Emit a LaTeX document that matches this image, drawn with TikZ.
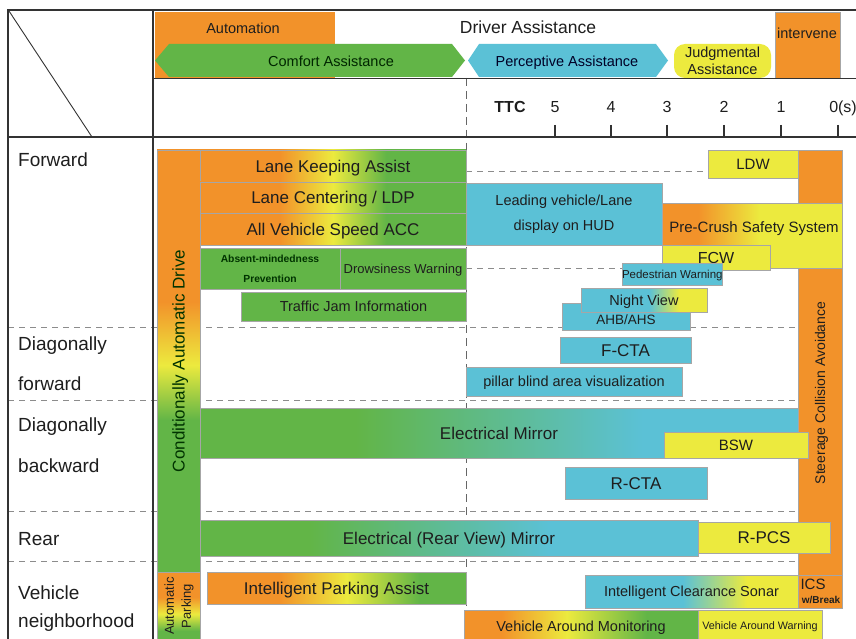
\documentclass[tikz,border=0pt]{standalone}
\usepackage{fontspec}
\setmainfont{Liberation Sans}
\definecolor{cOr}{HTML}{F2922A}
\definecolor{cGr}{HTML}{62B547}
\definecolor{cCy}{HTML}{5BC1D6}
\definecolor{cYe}{HTML}{ECEA3E}
\definecolor{txt}{HTML}{1E1E1E}
\definecolor{frmc}{HTML}{333333}
\newcommand\fsz[1]{\fontsize{#1}{#1}\selectfont}
% horizontal shadings (path mapped to 25bp..75bp)
\pgfdeclarehorizontalshading{shLK}{100bp}{color(0bp)=(cOr); color(25bp)=(cOr); color(40bp)=(cOr); color(50bp)=(cYe); color(60bp)=(cGr); color(75bp)=(cGr); color(100bp)=(cGr)}
\pgfdeclarehorizontalshading{shIPA}{100bp}{color(0bp)=(cOr); color(25bp)=(cOr); color(39bp)=(cOr); color(52bp)=(cYe); color(66bp)=(cGr); color(75bp)=(cGr); color(100bp)=(cGr)}
\pgfdeclarehorizontalshading{shVAM}{100bp}{color(0bp)=(cOr); color(25bp)=(cOr); color(33bp)=(cOr); color(47bp)=(cYe); color(64bp)=(cGr); color(75bp)=(cGr); color(100bp)=(cGr)}
\pgfdeclarehorizontalshading{shPCS}{100bp}{color(0bp)=(cOr); color(25bp)=(cOr); color(35bp)=(cOr); color(52bp)=(cYe); color(75bp)=(cYe); color(100bp)=(cYe)}
\pgfdeclarehorizontalshading{shEM}{100bp}{color(0bp)=(cGr); color(25bp)=(cGr); color(38bp)=(cGr); color(62bp)=(cCy); color(75bp)=(cCy); color(100bp)=(cCy)}
\pgfdeclarehorizontalshading{shERM}{100bp}{color(0bp)=(cGr); color(25bp)=(cGr); color(36bp)=(cGr); color(60bp)=(cCy); color(75bp)=(cCy); color(100bp)=(cCy)}
\pgfdeclarehorizontalshading{shNV}{100bp}{color(0bp)=(cCy); color(25bp)=(cCy); color(52bp)=(cCy); color(64bp)=(cYe); color(75bp)=(cYe); color(100bp)=(cYe)}
\pgfdeclarehorizontalshading{shICS}{100bp}{color(0bp)=(cCy); color(25bp)=(cCy); color(48bp)=(cCy); color(63bp)=(cYe); color(75bp)=(cYe); color(100bp)=(cYe)}
% vertical shadings (bottom = 25bp, top = 75bp)
\pgfdeclareverticalshading{shCAD}{100bp}{color(0bp)=(cGr); color(25bp)=(cGr); color(43bp)=(cGr); color(49.5bp)=(cYe); color(57bp)=(cOr); color(75bp)=(cOr); color(100bp)=(cOr)}
\pgfdeclareverticalshading{shAP}{100bp}{color(0bp)=(cGr); color(25bp)=(cGr); color(33bp)=(cGr); color(45bp)=(cYe); color(57bp)=(cOr); color(75bp)=(cOr); color(100bp)=(cOr)}
\begin{document}
\begin{tikzpicture}[x=1pt,y=-1pt,
  bx/.style={draw=black!35, line width=0.5pt, inner sep=0pt, outer sep=0pt, anchor=north west, align=center, text=txt},
  one/.style={font=\fsz{#1}, text height={0.72*#1pt}, text depth=0pt},
  tx/.style={inner sep=0pt, text=txt},
  lbl/.style={anchor=base west, text=txt, font=\fsz{19}, inner sep=0pt},
  dl/.style={draw=black!45, line width=1pt, dash pattern=on 6pt off 5pt},
  vdl/.style={draw=black!60, line width=1pt, dash pattern=on 8pt off 5pt},
  frm/.style={draw=frmc, line width=1.5pt}]
\useasboundingbox (0,0) rectangle (856,639);
\fill[white] (0,0) rectangle (856,639);

% ---------- dashed guide lines ----------
\draw[vdl] (466,78) -- (466,639);
\draw[dl] (8,327) -- (798,327);
\draw[dl] (8,400) -- (798,400);
\draw[dl] (8,511) -- (798,511);
\draw[dl] (8,561) -- (798,561);
\draw[dl] (466,172) -- (708,172);
\draw[dl] (466,268) -- (622,268);

% ---------- header ----------
\node[bx, draw=none, fill=cOr, minimum width=180pt, minimum height=66pt] (auto) at (155,12) {};
\node[tx, one=14.5] (autoT) at (243,28) {Automation};
\node[tx, one=17.5] (daT) at (528,27) {Driver Assistance};
\fill[cGr] (155,60.5) -- (169,44) -- (452,44) -- (465,60.5) -- (452,77) -- (169,77) -- cycle;
\node[tx, one=14.5, text=black!85!green] (cmfT) at (331,61) {Comfort Assistance};
\fill[cCy] (468,60.5) -- (479,44) -- (656,44) -- (668,60.5) -- (656,77) -- (479,77) -- cycle;
\node[tx, one=14.5, text=black!85!blue] (perT) at (567,61) {Perceptive Assistance};
\node[bx, draw=none, fill=cYe, rounded corners=11pt, minimum width=97pt, minimum height=34pt, font=\fontsize{14.5}{16.5}\selectfont] (jud) at (674,44) {Judgmental\\Assistance};
\node[bx, fill=cOr, minimum width=65pt, minimum height=66pt] (int) at (775,12) {};
\node[tx, one=14.5] (intT) at (807,33) {intervene};

% TTC axis
\node[tx, one=16, font=\bfseries\fsz{16}] (ttc) at (510,107) {TTC};
\foreach \xx/\lab in {555/5,611/4,667/3,724/2,781/1}{
  \node[tx, one=16] (t\lab) at (\xx,107) {\lab};
  \draw[frmc, line width=1.3pt] (\xx,125) -- (\xx,137);
}
\node[tx, one=16, anchor=east] (t0) at (857,107) {0(s)};
\draw[frmc, line width=1.3pt] (838,125) -- (838,137);

% ---------- left labels ----------
\node[lbl] (lF) at (18,167) {Forward};
\node[lbl] (lD1) at (18,350) {Diagonally};
\node[lbl] (lD2) at (18,390) {forward};
\node[lbl] (lB1) at (18,431) {Diagonally};
\node[lbl] (lB2) at (18,472) {backward};
\node[lbl] (lR) at (18,545) {Rear};
\node[lbl] (lV1) at (18,599) {Vehicle};
\node[lbl] (lV2) at (18,627) {neighborhood};

% ---------- vertical bars ----------
\node[bx, shade, shading=shCAD, minimum width=43pt, minimum height=422pt] (cad) at (157,150) {};
\node[tx, one=17, rotate=90, text=black!80!green] (cadT) at (178.5,361) {Conditionally Automatic Drive};
\node[bx, shade, shading=shAP, minimum width=43pt, minimum height=70pt] (ap) at (157,572) {};
\node[tx, font=\fontsize{13}{17}\selectfont, rotate=90, align=center] (apT) at (179,606) {Automatic\\Parking};
\node[bx, fill=cOr, minimum width=44pt, minimum height=425pt] (sca) at (798,150) {};

% ---------- forward ----------
\node[bx, shade, shading=shLK, one=17, minimum width=266pt, minimum height=32pt] (lka) at (200,150) {Lane Keeping Assist};
\node[bx, shade, shading=shLK, one=17, minimum width=266pt, minimum height=31pt] (lcl) at (200,182) {Lane Centering / LDP};
\node[bx, shade, shading=shLK, one=17, minimum width=266pt, minimum height=32pt] (acc) at (200,213) {All Vehicle Speed ACC};
\node[bx, fill=cGr, font=\bfseries\fontsize{10.3}{20}\selectfont, text=black!80!green, minimum width=140pt, minimum height=41pt] (amp) at (200,248) {Absent-mindedness\\Prevention};
\node[bx, fill=cGr, one=13, minimum width=126pt, minimum height=41pt] (dw) at (340,248) {Drowsiness Warning};
\node[bx, fill=cGr, one=14.5, minimum width=225pt, minimum height=29pt] (tji) at (241,292) {Traffic Jam Information};
\node[bx, fill=cYe, one=15, minimum width=90pt, minimum height=28pt] (ldw) at (708,150) {LDW};
\node[bx, fill=cCy, font=\fontsize{14.5}{25}\selectfont, minimum width=196pt, minimum height=62pt] (hud) at (466,183) {Leading vehicle/Lane\\display on HUD};
\node[bx, shade, shading=shPCS, minimum width=180pt, minimum height=65pt] (pcs) at (662,203) {};
\node[tx, one=15] (pcsT) at (754,227) {Pre-Crush Safety System};
\node[bx, fill=cYe, one=16, minimum width=108pt, minimum height=25pt] (fcw) at (662,245) {FCW};
\node[bx, fill=cCy, one=11.5, minimum width=76pt, minimum height=22pt] (ped) at (622,263) {Pedestrian Warning};
\node[bx, fill=cCy, minimum width=128pt, minimum height=27pt] (ahb) at (562,303) {};
\node[bx, shade, shading=shNV, one=14.5, minimum width=126pt, minimum height=24pt] (nv) at (581,288) {Night View};
\node[tx, one=13.5] (ahbT) at (626,320) {AHB/AHS};

% ---------- diagonally forward ----------
\node[bx, fill=cCy, one=17, minimum width=131pt, minimum height=26pt] (fcta) at (560,337) {F-CTA};
\node[bx, fill=cCy, one=14.5, minimum width=216pt, minimum height=29pt] (pil) at (466,367) {pillar blind area visualization};

% ---------- diagonally backward ----------
\node[bx, shade, shading=shEM, one=17, minimum width=598pt, minimum height=50pt] (em) at (200,408) {Electrical Mirror};
\node[bx, fill=cYe, one=15, minimum width=144pt, minimum height=26pt] (bsw) at (664,432) {BSW};
\node[bx, fill=cCy, one=17, minimum width=142pt, minimum height=32pt] (rcta) at (565,467) {R-CTA};

% ---------- rear ----------
\node[bx, shade, shading=shERM, one=17, minimum width=498pt, minimum height=36pt] (erm) at (200,520) {Electrical (Rear View) Mirror};
\node[bx, fill=cYe, one=17, minimum width=132pt, minimum height=31pt] (rpcs) at (698,522) {R-PCS};

% ---------- vehicle neighborhood ----------
\node[bx, shade, shading=shIPA, one=17, minimum width=259pt, minimum height=32pt] (ipa) at (207,572) {Intelligent Parking Assist};
\node[bx, shade, shading=shICS, one=14.5, minimum width=213pt, minimum height=33pt] (ics) at (585,575) {Intelligent Clearance Sonar};
\node[bx, fill=cOr, minimum width=44pt, minimum height=33pt] (icsb) at (798,575) {};
\node[tx, one=15] (icsT) at (813,584) {ICS};
\node[tx, one=10, font=\bfseries\fsz{10}] (icsW) at (821,600) {w/Break};
\node[bx, shade, shading=shVAM, one=14.5, minimum width=234pt, minimum height=32pt] (vam) at (464,610) {Vehicle Around Monitoring};
\node[bx, fill=cYe, one=10.8, minimum width=124pt, minimum height=32pt] (vaw) at (698,610) {Vehicle Around Warning};

\node[tx, one=14, rotate=90] (scaT) at (820,393) {Steerage Collision Avoidance};

% ---------- frame ----------
\draw[frm] (8,639) -- (8,10) -- (857,10);
\draw[frm] (153,10) -- (153,639);
\draw[frmc, line width=2pt] (8,137) -- (857,137);
\draw[frmc, line width=0.9pt] (153,78) -- (857,78);
\draw[frmc, line width=0.9pt] (9,11) -- (92,137);
\end{tikzpicture}
\end{document}
